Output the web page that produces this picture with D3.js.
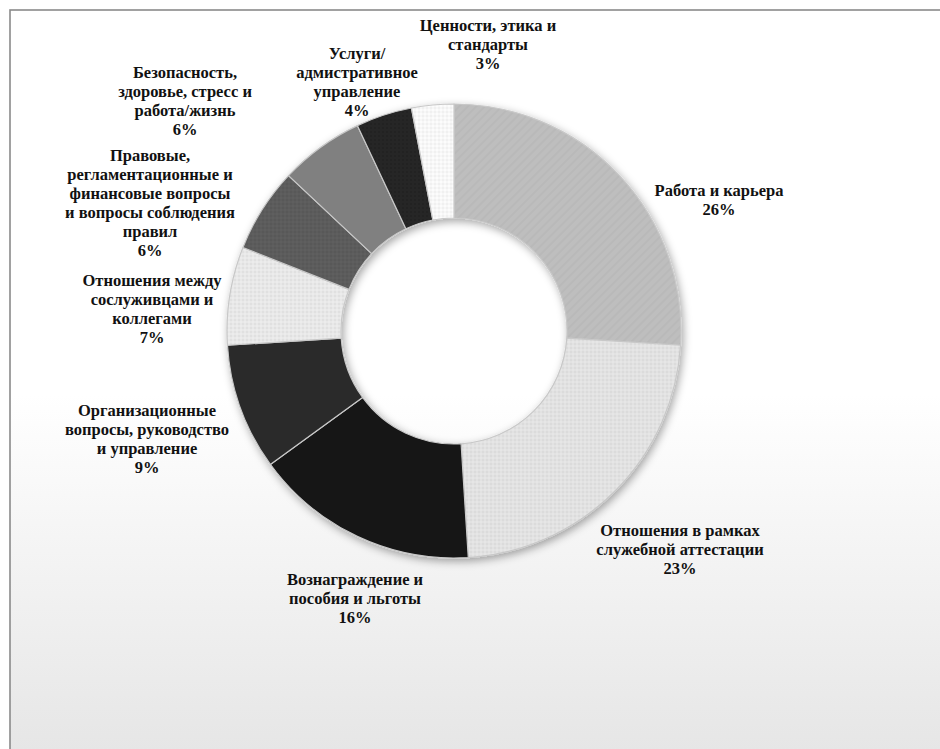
<!DOCTYPE html>
<html>
<head>
<meta charset="utf-8">
<script src="https://cdn.jsdelivr.net/npm/d3@7"></script>
<style>
  html, body { margin: 0; padding: 0; background: #ffffff; }
  svg { display: block; }
</style>
</head>
<body>
<svg id="chart" width="940" height="749"></svg>
<script>
// Categories of appeals (line breaks mark how each label wraps)
const categories = [
  "Работа и карьера",
  "Отношения в рамках\nслужебной аттестации",
  "Вознаграждение и\nпособия и льготы",
  "Организационные\nвопросы, руководство\nи управление",
  "Отношения между\nсослуживцами и\nколлегами",
  "Правовые,\nрегламентационные и\nфинансовые вопросы\nи вопросы соблюдения\nправил",
  "Безопасность,\nздоровье, стресс и\nработа/жизнь",
  "Услуги/\nадмистративное\nуправление",
  "Ценности, этика и\nстандарты"
];
// Share of each category, percent
const values = [26, 23, 16, 9, 7, 6, 6, 4, 3];

// Segment fills and texture for each slice
const fills = ["#bebebe", "#e2e2e2", "#141414", "#2a2a2a", "#e8e8e8", "#5c5c5c", "#808080", "#252525", "#f7f7f7"];
const textures = ["stripe", "check", "check", "check", "check", "check", "plain", "check", "check"];

// Label anchor points (offset from donut centre), top line baseline
const labelPos = [
  [265, -135], [226, 205], [-99, 254], [-307, 85], [-302, -45],
  [-304, -170], [-269, -253], [-97, -272], [34, -300]
];

const W = 940, H = 749;
const cx = 454, cy = 331, rOuter = 227, rInner = 113;
const lineH = 19;

const svg = d3.select("#chart");
const defs = svg.append("defs");

// Background: white top fading into light grey toward the bottom
const bg = defs.append("linearGradient").attr("id", "bg").attr("x1", 0).attr("y1", 0).attr("x2", 0).attr("y2", 1);
bg.append("stop").attr("offset", "0%").attr("stop-color", "#ffffff");
bg.append("stop").attr("offset", "50%").attr("stop-color", "#ffffff");
bg.append("stop").attr("offset", "100%").attr("stop-color", "#e4e4e4");

// Soft shadow under the ring
const sh = defs.append("filter").attr("id", "shadow")
  .attr("x", "-20%").attr("y", "-20%").attr("width", "140%").attr("height", "140%");
sh.append("feDropShadow").attr("dx", 2).attr("dy", 3).attr("stdDeviation", 4)
  .attr("flood-color", "#000").attr("flood-opacity", 0.35);

// Per-slice textures
fills.forEach((c, i) => {
  const p = defs.append("pattern").attr("id", "pat" + i)
    .attr("patternUnits", "userSpaceOnUse");
  const base = d3.color(c);
  const dark = base.darker(base.l < 30 ? 0.6 : 0.12).formatHex();
  const light = base.brighter(base.l < 30 ? 0.5 : 0.08).formatHex();
  if (textures[i] === "stripe") {
    p.attr("width", 6).attr("height", 6).attr("patternTransform", "rotate(45)");
    p.append("rect").attr("width", 6).attr("height", 6).attr("fill", c);
    p.append("rect").attr("width", 2).attr("height", 6).attr("fill", dark).attr("opacity", 0.6);
  } else if (textures[i] === "check") {
    p.attr("width", 4).attr("height", 4);
    p.append("rect").attr("width", 4).attr("height", 4).attr("fill", c);
    p.append("rect").attr("width", 2).attr("height", 2).attr("fill", dark).attr("opacity", 0.7);
    p.append("rect").attr("x", 2).attr("y", 2).attr("width", 2).attr("height", 2).attr("fill", light).attr("opacity", 0.7);
  } else {
    p.attr("width", 4).attr("height", 4);
    p.append("rect").attr("width", 4).attr("height", 4).attr("fill", c);
  }
});

// Chart area with frame
svg.append("rect").attr("x", 0).attr("y", 0).attr("width", W).attr("height", H).attr("fill", "#ffffff");
svg.append("rect").attr("x", 10).attr("y", 10).attr("width", W + 20).attr("height", H + 20)
  .attr("fill", "url(#bg)").attr("stroke", "#8a8a8a").attr("stroke-width", 1.6);

const pie = d3.pie().sort(null).value(d => d);
const arcs = pie(values);
const arc = d3.arc().innerRadius(rInner).outerRadius(rOuter);

const g = svg.append("g").attr("transform", `translate(${cx},${cy})`);

g.append("g").attr("filter", "url(#shadow)")
  .selectAll("path").data(arcs).join("path")
  .attr("d", arc)
  .attr("fill", (d, i) => `url(#pat${i})`)
  .attr("stroke", "#c8c8c8")
  .attr("stroke-width", 1.2)
  .attr("stroke-linejoin", "round");

// Category labels with percentages
const labels = g.append("g").selectAll("text").data(arcs).join("text")
  .attr("text-anchor", "middle")
  .style("font-family", '"Liberation Serif"')
  .style("font-weight", "bold")
  .style("font-size", "16.5px")
  .attr("fill", "#111111")
  .attr("transform", (d, i) => `translate(${labelPos[i][0]},${labelPos[i][1]})`);

labels.each(function(d, i) {
  const lines = categories[i].split("\n").concat([d.data + "%"]);
  d3.select(this).selectAll("tspan").data(lines).join("tspan")
    .attr("x", 0)
    .attr("dy", (t, k) => k === 0 ? 0 : lineH)
    .text(t => t);
});
</script>
</body>
</html>
